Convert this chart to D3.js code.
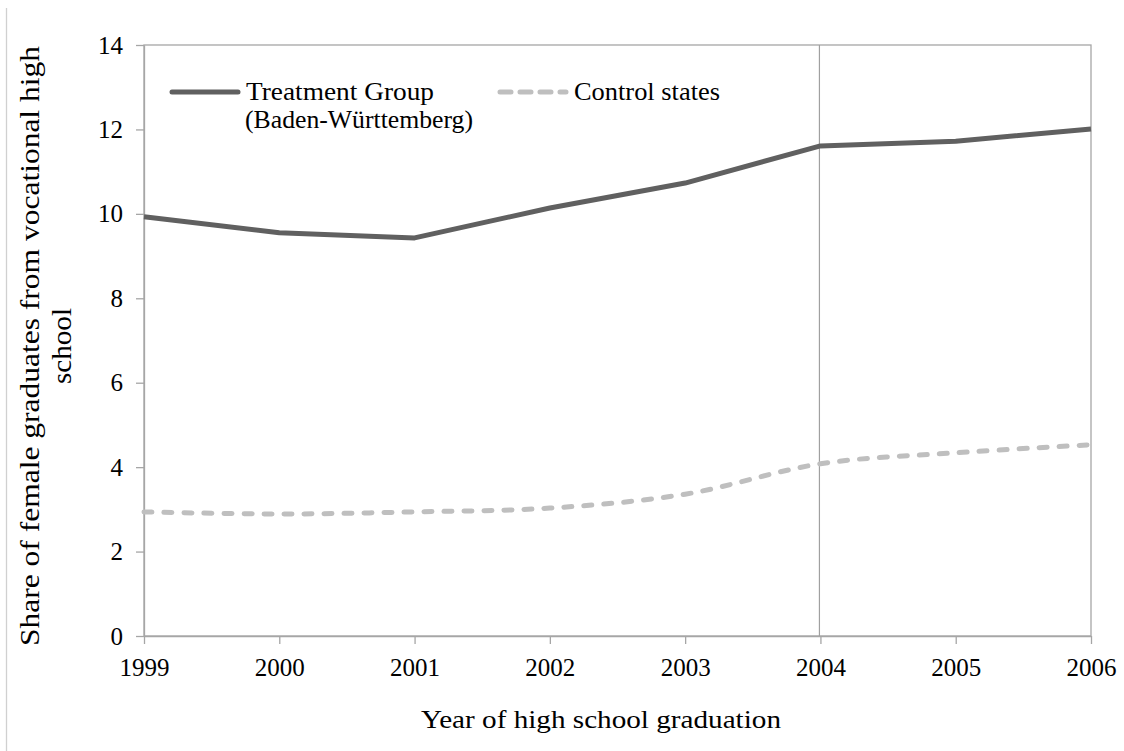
<!DOCTYPE html>
<html>
<head>
<meta charset="utf-8">
<script src="https://cdn.jsdelivr.net/npm/d3@7"></script>
<style>
  body { margin: 0; background: #fff; }
  svg { display: block; }
  .axis path, .axis line { stroke: #a6a6a6; stroke-width: 1.3; }
</style>
</head>
<body>
<svg id="chart" width="1124" height="751"></svg>
<script>
'use strict';

// Data
let years = [1999, 2000, 2001, 2002, 2003, 2004, 2005, 2006];
let treatment = [9.93, 9.55, 9.43, 10.14, 10.73, 11.61, 11.72, 12.01];
let control = [2.94, 2.89, 2.94, 3.03, 3.36, 4.08, 4.34, 4.53];
let yTicks = [0, 2, 4, 6, 8, 10, 12, 14];
let reformYear = 2004;

// Formatting
let format = {
  left: 144,
  right: 1091,
  top: 45,
  bottom: 636,
};

let serif = "'Liberation Serif', 'Times New Roman', serif";
let treatColor = '#606060';
let controlColor = '#bfbfbf';

let svg = d3.select('#chart')
  .attr('font-family', serif);

let xScale = d3.scaleLinear()
  .domain([years[0], years[years.length - 1]])
  .range([format.left, format.right]);

let yScale = d3.scaleLinear()
  .domain([0, 14])
  .range([format.bottom, format.top]);

// outer chart frame (only the left side shows)
svg.append('line')
  .attr('x1', 6.5).attr('x2', 6.5)
  .attr('y1', 8).attr('y2', 751)
  .attr('stroke', '#d0d0d0')
  .attr('stroke-width', 1.3);

// plot frame
svg.append('rect')
  .attr('x', format.left)
  .attr('y', format.top)
  .attr('width', format.right - format.left)
  .attr('height', format.bottom - format.top)
  .attr('fill', 'none')
  .attr('stroke', '#a6a6a6')
  .attr('stroke-width', 1.3);

// Axes
let xAxis = d3.axisBottom(xScale)
  .tickValues(years)
  .tickFormat(d3.format('d'))
  .tickSizeInner(8)
  .tickSizeOuter(0)
  .tickPadding(14);

let yAxis = d3.axisLeft(yScale)
  .tickValues(yTicks)
  .tickSizeInner(8)
  .tickSizeOuter(0)
  .tickPadding(13);

svg.append('g')
  .attr('class', 'xaxis axis')
  .attr('transform', `translate(0,${format.bottom})`)
  .call(xAxis)
  .attr('font-family', serif)
  .attr('font-size', 25)
  .call(g => g.selectAll('text').attr('fill', '#000'));

svg.append('g')
  .attr('class', 'yaxis axis')
  .attr('transform', `translate(${format.left},0)`)
  .call(yAxis)
  .attr('font-family', serif)
  .attr('font-size', 25)
  .call(g => g.selectAll('text').attr('fill', '#000'));

// reform line
svg.append('line')
  .attr('x1', xScale(reformYear) - 1).attr('x2', xScale(reformYear) - 1)
  .attr('y1', format.top).attr('y2', format.bottom)
  .attr('stroke', '#a0a0a0')
  .attr('stroke-width', 1.2);

// Lines
let treatLine = d3.line()
  .x((d, i) => xScale(years[i]))
  .y(d => yScale(d));

let controlLine = d3.line()
  .x((d, i) => xScale(years[i]))
  .y(d => yScale(d))
  .curve(d3.curveCatmullRom.alpha(0.5));

svg.append('path')
  .datum(control)
  .attr('d', controlLine)
  .attr('fill', 'none')
  .attr('stroke', controlColor)
  .attr('stroke-width', 5)
  .attr('stroke-dasharray', '8,12')
  .attr('stroke-linecap', 'round');

svg.append('path')
  .datum(treatment)
  .attr('d', treatLine)
  .attr('fill', 'none')
  .attr('stroke', treatColor)
  .attr('stroke-width', 5)
  .attr('stroke-linejoin', 'round');

// Legend
let legend = svg.append('g').attr('font-size', 26);

legend.append('line')
  .attr('x1', 172).attr('x2', 238)
  .attr('y1', 92).attr('y2', 92)
  .attr('stroke', treatColor)
  .attr('stroke-width', 5)
  .attr('stroke-linecap', 'round');
legend.append('text').attr('x', 246).attr('y', 100)
  .attr('textLength', 188).attr('lengthAdjust', 'spacingAndGlyphs')
  .text('Treatment Group');
legend.append('text').attr('x', 245).attr('y', 128)
  .attr('textLength', 228).attr('lengthAdjust', 'spacingAndGlyphs')
  .text('(Baden-Württemberg)');

legend.append('line')
  .attr('x1', 500).attr('x2', 566)
  .attr('y1', 92).attr('y2', 92)
  .attr('stroke', controlColor)
  .attr('stroke-width', 5)
  .attr('stroke-dasharray', '11,9')
  .attr('stroke-linecap', 'round');
legend.append('text').attr('x', 574).attr('y', 100)
  .attr('textLength', 146).attr('lengthAdjust', 'spacingAndGlyphs')
  .text('Control states');

// Axis titles
svg.append('text')
  .attr('x', 601)
  .attr('y', 728)
  .attr('text-anchor', 'middle')
  .attr('font-size', 26)
  .attr('textLength', 360)
  .attr('lengthAdjust', 'spacingAndGlyphs')
  .text('Year of high school graduation');

let yTitle = svg.append('text')
  .attr('transform', 'translate(39,346) rotate(-90)')
  .attr('text-anchor', 'middle')
  .attr('font-size', 27);
yTitle.append('tspan')
  .attr('x', 0).attr('y', 0)
  .attr('textLength', 600)
  .attr('lengthAdjust', 'spacingAndGlyphs')
  .text('Share of female graduates from vocational high');
yTitle.append('tspan')
  .attr('x', 0).attr('y', 32)
  .attr('textLength', 76)
  .attr('lengthAdjust', 'spacingAndGlyphs')
  .text('school');
</script>
</body>
</html>
